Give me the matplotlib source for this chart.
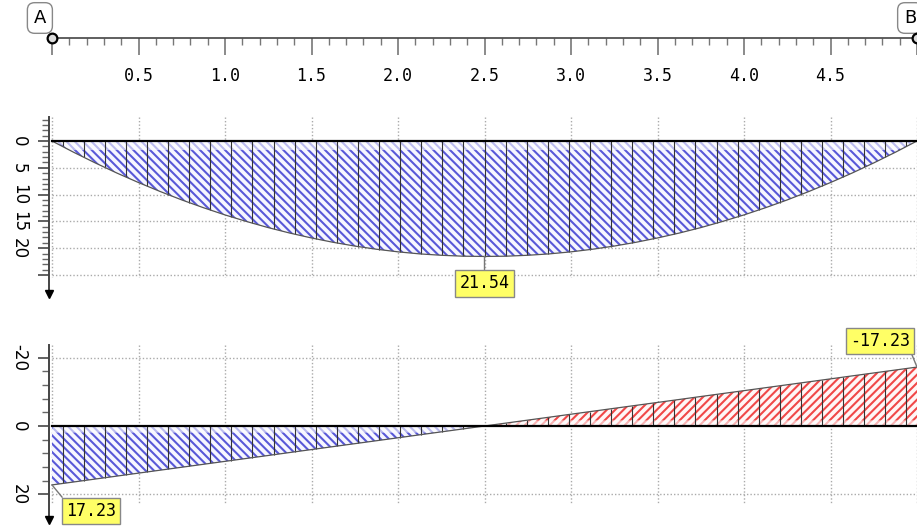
import matplotlib
matplotlib.use("Agg")
import matplotlib.pyplot as plt
import numpy as np

# beam stations [m] and internal forces
x_st = [0.0, 0.125, 0.25, 0.375, 0.5, 0.625, 0.75, 0.875, 1.0, 1.125, 1.25,
        1.375, 1.5, 1.625, 1.75, 1.875, 2.0, 2.125, 2.25, 2.375, 2.5,
        2.625, 2.75, 2.875, 3.0, 3.125, 3.25, 3.375, 3.5, 3.625, 3.75,
        3.875, 4.0, 4.125, 4.25, 4.375, 4.5, 4.625, 4.75, 4.875, 5.0]
moment = [0.0, 2.10, 4.09, 5.98, 7.75, 9.42, 10.99, 12.44, 13.79, 15.02, 16.16,
          17.18, 18.09, 18.90, 19.60, 20.19, 20.68, 21.06, 21.32, 21.49, 21.54,
          21.49, 21.32, 21.06, 20.68, 20.19, 19.60, 18.90, 18.09, 17.18, 16.16,
          15.02, 13.79, 12.44, 10.99, 9.42, 7.75, 5.98, 4.09, 2.10, 0.0]
shear = [17.23, 16.37, 15.51, 14.65, 13.78, 12.92, 12.06, 11.20, 10.34, 9.48, 8.62,
         7.75, 6.89, 6.03, 5.17, 4.31, 3.45, 2.58, 1.72, 0.86, 0.0,
         -0.86, -1.72, -2.58, -3.45, -4.31, -5.17, -6.03, -6.89, -7.75, -8.62,
         -9.48, -10.34, -11.20, -12.06, -12.92, -13.78, -14.65, -15.51, -16.37, -17.23]

ruler_ticks = [0.0, 0.5, 1.0, 1.5, 2.0, 2.5, 3.0, 3.5, 4.0, 4.5, 5.0]
ruler_labels = ["", "0.5", "1.0", "1.5", "2.0", "2.5", "3.0", "3.5", "4.0", "4.5", ""]
moment_ticks = [0, 5, 10, 15, 20, 25]
moment_labels = ["0", "5", "10", "15", "20", ""]
moment_grid = [5, 10, 15, 20, 25]
shear_ticks = [-20, 0, 20]
shear_labels = ["-20", "0", "20"]
shear_grid = [-20, 20]

W, H = 917, 527
X0, XS = 52, 173          # pixel of x=0, pixels per metre
XLIM = (-X0 / XS, (W - X0) / XS)
AXIS_X = -3 / XS

BLUE = "#5858d8"
RED = "#f04848"
YELLOW = "#ffff66"
GRID = "#aaaaaa"
MONO = "DejaVu Sans Mono"

plt.rcParams["hatch.linewidth"] = 1.5

fig = plt.figure(figsize=(W / 100, H / 100), dpi=100)


def px_axes(top, bottom):
    ax = fig.add_axes([0, 1 - bottom / H, 1, (bottom - top) / H])
    ax.set_xlim(*XLIM)
    ax.patch.set_alpha(0)
    for s in ("top", "right", "bottom"):
        ax.spines[s].set_visible(False)
    return ax


def diagram(ax, top, bottom, zero, scale, vals, ticks, labels, minor, grid, band,
            ax_lo, ax_hi, grid_hi):
    ax.set_ylim((bottom - zero) / scale, (top - zero) / scale)
    v = np.asarray(vals)
    ax.fill_between(x_st, 0, v, where=v >= 0, interpolate=True, facecolor="#f6f6ff",
                    edgecolor=BLUE, hatch="\\\\\\\\", lw=0, zorder=2)
    ax.fill_between(x_st, 0, v, where=v <= 0, interpolate=True, facecolor="#fff6f6",
                    edgecolor=RED, hatch="////", lw=0, zorder=2)
    ax.fill_between(x_st, 0, np.clip(v, -band, band), color="white", alpha=0.6, lw=0, zorder=3)
    div_x = (np.arange(41) + 0.5) * 5 / 41
    ax.vlines(div_x, 0, np.interp(div_x, x_st, v), color="#333333", lw=0.8, zorder=4)
    ax.plot(x_st, v, color="#555555", lw=0.9, zorder=4)
    ax.plot([0, 5], [0, 0], color="black", lw=1.6, zorder=5)
    ax.vlines(ruler_ticks, ax_lo, grid_hi, color=GRID, lw=1, linestyles=(0, (1, 1.5)), zorder=1)
    ax.hlines(grid, 0, 5, color=GRID, lw=1, linestyles=(0, (1, 1.5)), zorder=1)

    ax.spines["left"].set_position(("data", AXIS_X))
    ax.spines["left"].set_bounds(ax_lo, ax_hi)
    ax.spines["left"].set_color("#444444")
    ax.spines["left"].set_linewidth(1.4)
    ax.set_xticks([])
    ax.set_yticks(ticks, labels)
    ax.set_yticks(minor, minor=True)
    ax.tick_params(axis="y", which="major", length=8, width=1.3, color="#555555",
                   labelsize=12, labelrotation=270, pad=7)
    ax.tick_params(axis="y", which="minor", length=5, width=1.0, color="#666666")
    for t in ax.get_yticklabels():
        t.set_va("center")
    ax.plot([AXIS_X], [ax_hi], marker="v", ms=6, color="black", clip_on=False, zorder=6)


# ruler
ax_r = px_axes(0, 38)
ax_r.set_ylim(0, 38)
ax_r.spines["left"].set_visible(False)
ax_r.spines["bottom"].set_visible(True)
ax_r.spines["bottom"].set_bounds(0, 5)
ax_r.spines["bottom"].set_color("#444444")
ax_r.spines["bottom"].set_linewidth(1.2)
ax_r.set_yticks([])
ax_r.set_xticks(ruler_ticks, ruler_labels, family=MONO, fontsize=12)
ax_r.set_xticks(np.arange(0, 5.01, 0.1), minor=True)
ax_r.tick_params(axis="x", which="major", length=12, width=1.2, color="#777777", pad=9)
ax_r.tick_params(axis="x", which="minor", length=5, width=1.0, color="#777777")
ax_r.plot([0, 5], [0, 0], ls="none", marker="o", ms=7, mfc="#dddddd", mec="black",
          mew=1.6, clip_on=False, zorder=5)
node_box = dict(boxstyle="round,pad=0.35,rounding_size=0.4", fc="white", ec="#888888", lw=1)
ax_r.text(-0.07, 20, "A", ha="center", va="center", fontsize=13, bbox=node_box)
ax_r.text(4.96, 20, "B", ha="center", va="center", fontsize=13, bbox=node_box)

# bending moment
ax_m = px_axes(105, 305)
diagram(ax_m, 105, 305, 141, 5.36, moment, moment_ticks, moment_labels,
        list(range(-4, 25)), moment_grid, 1.6, -4.5, 28.6, 25.4)

# shear
ax_v = px_axes(330, 527)
diagram(ax_v, 330, 527, 426, 3.42, shear, shear_ticks, shear_labels,
        [-16, -12, -8, -4, 4, 8, 12, 16], shear_grid, 1.8, -23.8, 27.5, 22.5)

label_box = dict(boxstyle="square,pad=0.25", fc=YELLOW, ec="#888888", lw=1)
lead = dict(arrowstyle="-", color="#777777", lw=1, shrinkA=0, shrinkB=0)
ax_m.annotate(f"{max(moment):.2f}", xy=(2.5, max(moment)), xytext=(0, -27),
              textcoords="offset pixels", ha="center", va="center", family=MONO,
              fontsize=12, bbox=label_box, arrowprops=dict(lead, relpos=(0.5, 1)), zorder=7)
ax_v.annotate(f"{shear[0]:.2f}", xy=(0, shear[0]), xytext=(39, -26),
              textcoords="offset pixels", ha="center", va="center", family=MONO,
              fontsize=12, bbox=label_box, arrowprops=dict(lead, relpos=(0, 1)), zorder=7)
ax_v.annotate(f"{shear[-1]:.2f}", xy=(5, shear[-1]), xytext=(-37, 26),
              textcoords="offset pixels", ha="center", va="center", family=MONO,
              fontsize=12, bbox=label_box, arrowprops=dict(lead, relpos=(1, 0)),
              annotation_clip=False, zorder=7)

fig.savefig("out.png", dpi=100)
